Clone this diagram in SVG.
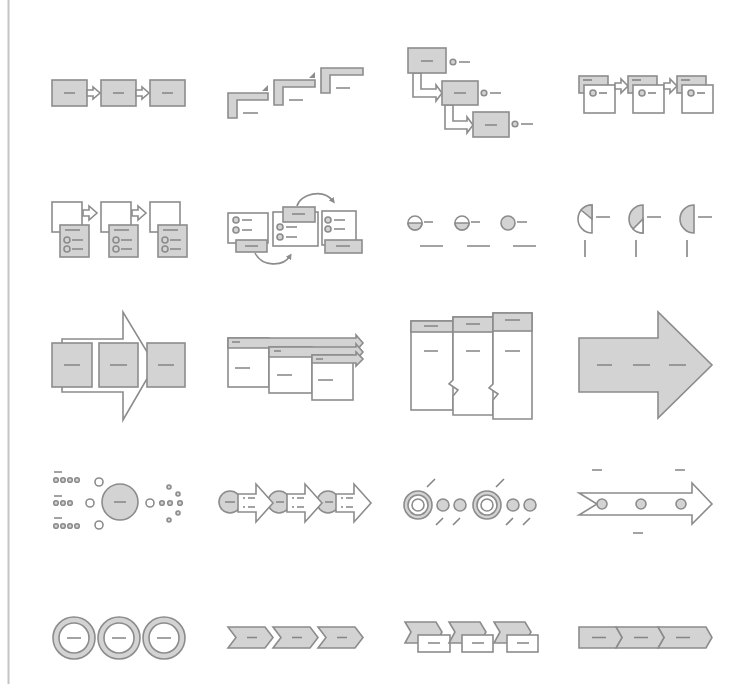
<svg xmlns="http://www.w3.org/2000/svg" width="749" height="684" viewBox="0 0 749 684">
<defs>
<style>
.g{fill:#d3d3d3;stroke:#8c8c8c;stroke-width:1.6}
.w{fill:#fff;stroke:#8c8c8c;stroke-width:1.6}
.d{stroke:#858585;stroke-width:1.6;fill:none}
.k{fill:#8c8c8c}
.ln{fill:none;stroke:#8c8c8c;stroke-width:1.6}
</style>
<marker id="ah" markerWidth="6" markerHeight="6" refX="3" refY="3" orient="auto" markerUnits="userSpaceOnUse"><path d="M0,0 L6,3 L0,6 Z" fill="#8c8c8c"/></marker>
</defs>
<rect width="749" height="684" fill="#fff"/>
<line x1="8.5" y1="0" x2="8.5" y2="684" stroke="#c4c4c4" stroke-width="2"/>

<!-- Row 1 -->
<g id="icon1">
<rect class="g" x="52" y="80" width="35" height="26"/>
<rect class="g" x="101" y="80" width="35" height="26"/>
<rect class="g" x="150" y="80" width="35" height="26"/>
<polygon class="w" points="87,90 93,90 93,87 100,93 93,99 93,96 87,96"/>
<polygon class="w" points="136,90 142,90 142,87 149,93 142,99 142,96 136,96"/>
<path class="d" d="M64,93H75M113,93H124M162,93H173"/>
</g>
<g id="icon2">
<polygon class="g" points="228,93 268,93 268,100 237,100 237,118 228,118"/>
<polygon class="g" points="274,80 315,80 315,87 283,87 283,105 274,105"/>
<polygon class="g" points="321,68 363,68 363,75 330,75 330,93 321,93"/>
<polygon class="k" points="262,91 268,85 268,91"/>
<polygon class="k" points="309,78 315,72 315,78"/>
<path class="d" d="M243,113H258M289,100H303M336,88H350"/>
</g>
<g id="icon3">
<polygon class="w" points="413,73 421,73 421,89 436,89 436,85 442,93 436,101 436,97 413,97"/>
<polygon class="w" points="445,105 453,105 453,121 467,121 467,117 473,125 467,133 467,129 445,129"/>
<rect class="g" x="408" y="48" width="38" height="25"/>
<rect class="g" x="442" y="81" width="36" height="24"/>
<rect class="g" x="473" y="112" width="36" height="25"/>
<path class="d" d="M421,61H433M454,93H466M485,125H497"/>
<circle class="g" cx="453" cy="62" r="2.8"/><circle class="g" cx="484" cy="93" r="2.8"/><circle class="g" cx="515" cy="124" r="2.8"/>
<path class="d" d="M459,62H470M490,93H501M521,124H533"/>
</g>
<g id="icon4">
<rect class="g" x="579" y="76" width="29" height="17"/>
<rect class="w" x="584" y="85" width="31" height="28"/>
<path class="d" d="M583,80H592"/>
<circle class="g" cx="593" cy="93" r="3"/><path class="d" d="M599,93H607"/>
<polygon class="w" points="615,83 621,83 621,79 628,86 621,93 621,89 615,89"/>
<rect class="g" x="628" y="76" width="29" height="17"/>
<rect class="w" x="633" y="85" width="31" height="28"/>
<path class="d" d="M632,80H641"/>
<circle class="g" cx="642" cy="93" r="3"/><path class="d" d="M648,93H656"/>
<polygon class="w" points="664,83 670,83 670,79 677,86 670,93 670,89 664,89"/>
<rect class="g" x="677" y="76" width="29" height="17"/>
<rect class="w" x="682" y="85" width="31" height="28"/>
<path class="d" d="M681,80H690"/>
<circle class="g" cx="691" cy="93" r="3"/><path class="d" d="M697,93H705"/>
</g>

<!-- Row 2 -->
<g id="icon5">
<rect class="w" x="52" y="202" width="30" height="30"/>
<rect class="g" x="60" y="225" width="29" height="32"/>
<path class="d" d="M65,230H80M72,240H83M72,249H83"/>
<circle class="g" cx="67" cy="240" r="3"/><circle class="g" cx="67" cy="249" r="3"/>
<polygon class="w" points="83,210 89,210 89,206 97,213 89,220 89,216 83,216"/>
<rect class="w" x="101" y="202" width="30" height="30"/>
<rect class="g" x="109" y="225" width="29" height="32"/>
<path class="d" d="M114,230H129M121,240H132M121,249H132"/>
<circle class="g" cx="116" cy="240" r="3"/><circle class="g" cx="116" cy="249" r="3"/>
<polygon class="w" points="132,210 138,210 138,206 146,213 138,220 138,216 132,216"/>
<rect class="w" x="150" y="202" width="30" height="30"/>
<rect class="g" x="158" y="225" width="29" height="32"/>
<path class="d" d="M163,230H178M170,240H181M170,249H181"/>
<circle class="g" cx="165" cy="240" r="3"/><circle class="g" cx="165" cy="249" r="3"/>
</g>
<g id="icon6">
<rect class="w" x="228" y="213" width="40" height="30"/>
<circle class="g" cx="236" cy="220" r="3"/><circle class="g" cx="236" cy="230" r="3"/>
<path class="d" d="M242,220H252M242,230H252"/>
<rect class="w" x="273" y="212" width="45" height="34"/>
<circle class="g" cx="280" cy="227" r="3"/><circle class="g" cx="280" cy="237" r="3"/>
<path class="d" d="M286,227H297M286,237H297"/>
<rect class="w" x="322" y="211" width="34" height="34"/>
<circle class="g" cx="328" cy="220" r="3"/><circle class="g" cx="328" cy="229" r="3"/>
<path class="d" d="M334,220H345M334,229H345"/>
<rect class="g" x="236" y="240" width="31" height="12"/>
<rect class="g" x="283" y="207" width="32" height="15"/>
<rect class="g" x="325" y="240" width="37" height="13"/>
<path class="d" d="M245,246H258M292,214H305M336,246H350"/>
<path class="ln" d="M297,206C300,194 323,188 333,201" marker-end="url(#ah)"/>
<path class="ln" d="M255,253C262,267 283,267 290,256" marker-end="url(#ah)"/>
</g>
<g id="icon7">
<circle class="w" cx="415" cy="223" r="7"/><path class="g" d="M408,223A7,7 0 0 0 422,223Z"/>
<circle class="w" cx="462" cy="223" r="7"/><path class="g" d="M455,223A7,7 0 0 0 469,223Z"/>
<circle class="g" cx="508" cy="223" r="7"/>
<path class="d" d="M424,222H433M471,222H480M517,222H527M420,246H443M467,246H490M513,246H536"/>
</g>
<g id="icon8">
<path class="w" d="M592,205A14,14 0 0 0 592,233Z"/>
<path class="g" d="M592,219L592,205A14,14 0 0 0 581,210Z"/>
<path class="g" d="M643,205A14,14 0 0 0 643,233Z"/>
<path class="w" d="M643,219L643,233A14,14 0 0 1 633,229Z"/>
<path class="g" d="M694,205A14,14 0 0 0 694,233Z"/>
<path class="d" d="M596,217H610M647,217H661M698,217H712M585,240V257M636,240V257M687,240V257"/>
</g>

<!-- Row 3 -->
<g id="icon9">
<polygon class="w" points="62,339 123,339 123,312 155,365 123,420 123,392 62,392"/>
<rect class="g" x="52" y="343" width="40" height="44"/>
<rect class="g" x="99" y="343" width="39" height="44"/>
<rect class="g" x="147" y="343" width="38" height="44"/>
<path class="d" d="M64,365H80M110,365H127M158,365H174"/>
</g>
<g id="icon10">
<rect class="w" x="228" y="338" width="41" height="49"/>
<polygon class="g" points="228,338 356,338 356,335 363,343 356,351 356,348 228,348"/>
<rect class="w" x="269" y="347" width="43" height="46"/>
<polygon class="g" points="269,347 356,347 356,344 363,352 356,360 356,357 269,357"/>
<rect class="w" x="312" y="355" width="41" height="45"/>
<polygon class="g" points="312,355 356,355 356,352 363,359 356,366 356,363 312,363"/>
<path class="d" d="M232,342H240M274,351H281M316,359H323M235,368H250M277,375H292M318,380H333"/>
</g>
<g id="icon11">
<rect class="w" x="411" y="321" width="42" height="89"/>
<rect class="g" x="411" y="321" width="42" height="11"/>
<path class="w" d="M453,317H493V415H453V396L458,390L449,384L453,380Z"/>
<rect class="g" x="453" y="317" width="40" height="15"/>
<path class="w" d="M493,313H532V419H493V400L498,394L489,388L493,384Z"/>
<rect class="g" x="493" y="313" width="39" height="18"/>
<path class="d" d="M424,326H438M466,324H480M505,320H520M424,351H438M466,351H480M505,351H520"/>
</g>
<g id="icon12">
<polygon class="g" points="579,338 658,338 658,312 712,365 658,418 658,392 579,392"/>
<path class="d" d="M597,365H612M633,365H650M669,365H686"/>
</g>

<!-- Row 4 -->
<g id="icon13">
<circle class="g" cx="120" cy="502" r="18"/>
<path class="d" d="M114,502H126M54,472H62M54,496H62M54,518H62"/>
<g class="g">
<circle cx="56" cy="480" r="2.3"/><circle cx="63" cy="480" r="2.3"/><circle cx="70" cy="480" r="2.3"/><circle cx="77" cy="480" r="2.3"/>
<circle cx="56" cy="503" r="2.3"/><circle cx="63" cy="503" r="2.3"/><circle cx="70" cy="503" r="2.3"/>
<circle cx="56" cy="526" r="2.3"/><circle cx="63" cy="526" r="2.3"/><circle cx="70" cy="526" r="2.3"/><circle cx="77" cy="526" r="2.3"/>
<circle cx="162" cy="503" r="2.3"/><circle cx="170" cy="503" r="2.3"/><circle cx="180" cy="503" r="2.3"/>
<circle cx="169" cy="487" r="2"/><circle cx="178" cy="494" r="2"/><circle cx="178" cy="513" r="2"/><circle cx="169" cy="520" r="2"/>
</g>
<g class="w" stroke-width="2">
<circle cx="99" cy="482" r="4"/><circle cx="90" cy="503" r="4"/><circle cx="99" cy="525" r="4"/><circle cx="150" cy="503" r="4"/>
</g>
</g>
<g id="icon14">
<circle class="g" cx="230" cy="502" r="11"/>
<circle class="g" cx="279" cy="502" r="11"/>
<circle class="g" cx="328" cy="502" r="11"/>
<polygon class="w" points="238,494 256,494 256,484 273,503 256,522 256,512 238,512"/>
<polygon class="w" points="287,494 305,494 305,484 322,503 305,522 305,512 287,512"/>
<polygon class="w" points="336,494 354,494 354,484 371,503 354,522 354,512 336,512"/>
<path class="d" d="M225,502H235M276,502H284M325,502H333M243,498H245M248,498H255M243,507H245M248,507H255M292,498H294M297,498H304M292,507H294M297,507H304M341,498H343M346,498H353M341,507H343M346,507H353"/>
</g>
<g id="icon15">
<circle class="g" cx="418" cy="505" r="14"/><circle class="w" cx="418" cy="505" r="10"/><circle class="w" cx="418" cy="505" r="6" stroke-width="2.2"/>
<circle class="g" cx="487" cy="505" r="14"/><circle class="w" cx="487" cy="505" r="10"/><circle class="w" cx="487" cy="505" r="6" stroke-width="2.2"/>
<circle class="g" cx="443" cy="505" r="6"/><circle class="g" cx="460" cy="505" r="6"/>
<circle class="g" cx="513" cy="505" r="6"/><circle class="g" cx="530" cy="505" r="6"/>
<path class="d" d="M427,487L435,479M496,487L504,479M436,525L443,518M453,525L460,518M506,525L513,518M523,525L530,518"/>
</g>
<g id="icon16">
<polygon class="w" points="579,493 692,493 692,483 712,504 692,524 692,515 579,515 597,504"/>
<circle class="g" cx="602" cy="504" r="5"/><circle class="g" cx="641" cy="504" r="5"/><circle class="g" cx="681" cy="504" r="5"/>
<path class="d" d="M592,470H602M675,470H685M633,533H643"/>
</g>

<!-- Row 5 -->
<g id="icon17">
<circle class="g" cx="74" cy="638" r="21"/>
<circle class="g" cx="119" cy="638" r="21"/>
<circle class="g" cx="164" cy="638" r="21"/>
<circle class="w" cx="74" cy="638" r="15"/>
<circle class="w" cx="119" cy="638" r="15"/>
<circle class="w" cx="164" cy="638" r="15"/>
<path class="d" d="M67,638H81M112,638H126M157,638H171"/>
</g>
<g id="icon18">
<polygon class="g" points="228,627 265,627 273,637.5 265,648 228,648 236,637.5"/>
<polygon class="g" points="273,627 310,627 318,637.5 310,648 273,648 281,637.5"/>
<polygon class="g" points="318,627 355,627 363,637.5 355,648 318,648 326,637.5"/>
<path class="d" d="M247,637.5H257M292,637.5H302M337,637.5H347"/>
</g>
<g id="icon19">
<polygon class="g" points="405,622 436,622 442,632 436,643 405,643 411,632"/>
<rect class="w" x="418" y="635" width="32" height="17"/>
<polygon class="g" points="449,622 480,622 486,632 480,643 449,643 455,632"/>
<rect class="w" x="462" y="635" width="31" height="17"/>
<polygon class="g" points="494,622 525,622 531,632 525,643 494,643 500,632"/>
<rect class="w" x="507" y="635" width="31" height="17"/>
<path class="d" d="M428,643H440M472,643H484M517,643H529"/>
</g>
<g id="icon20">
<polygon class="g" points="658,627 706,627 712,637.5 706,648 658,648 664,637.5"/>
<polygon class="g" points="616,627 658,627 664,637.5 658,648 616,648 622,637.5"/>
<polygon class="g" points="579,627 616,627 622,637.5 616,648 579,648"/>
<path class="d" d="M592,637.5H606M634,637.5H648M676,637.5H690"/>
</g>
</svg>
